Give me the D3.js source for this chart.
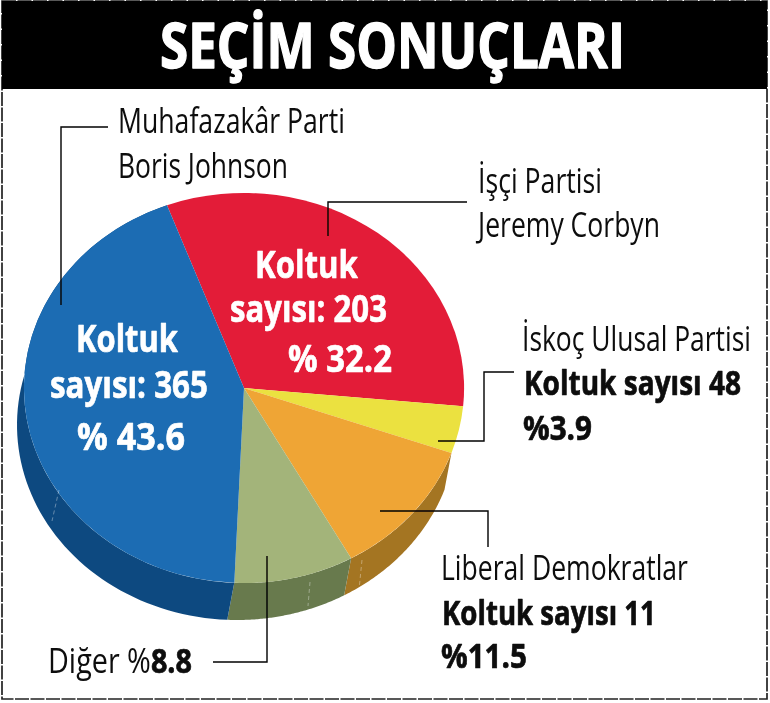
<!DOCTYPE html>
<html><head><meta charset="utf-8">
<script src="https://cdn.jsdelivr.net/npm/d3@7/dist/d3.min.js"></script>
<style>html,body{margin:0;background:#fff}svg{display:block}text{font-family:"Open Sans",sans-serif}</style>
</head><body><svg id="c" width="770" height="703"><defs><filter id="soft" x="0" y="0" width="100%" height="100%"><feGaussianBlur stdDeviation="0.35"/></filter></defs></svg>
<script>
const title = "SEÇİM SONUÇLARI";
const categories = ["İşçi Partisi","İskoç Ulusal Partisi","Liberal Demokratlar","Diğer","Muhafazakâr Parti"];
const shares = [32.2,3.9,11.5,8.8,43.6];
const seats = [203,48,11,null,365];
const topColors = ["#e31b37","#ebe13f","#efa536","#a3b47a","#1b6cb3"];
const sideColors = ["none","none","#a47421","#687a4e","#0f4a80"];

const W=770,H=703,cx=244,cy=388,rx=220,ry=195,dx=-7,dy=37;
const svg=d3.select("#c").append("g").attr("filter","url(#soft)");
svg.append("rect").attr("width",W).attr("height",H).attr("fill","#fff");

const startDeg=-20.5;
const pie=d3.pie().sort(null).startAngle(startDeg*Math.PI/180).endAngle((startDeg+360)*Math.PI/180);
const arcs=pie(shares);
const ex=d3.scaleLinear().domain([-1,1]).range([cx-rx,cx+rx]);
const ey=d3.scaleLinear().domain([-1,1]).range([cy-ry,cy+ry]);
const pt=a=>[ex(Math.sin(a)),ey(-Math.cos(a))];

// side wall of each slice
const line=d3.line();
svg.append("g").selectAll("path").data(arcs).join("path")
  .attr("fill",(d,i)=>sideColors[i])
  .attr("d",d=>{
    const n=80,s=d3.range(n+1).map(k=>pt(d.startAngle+(d.endAngle-d.startAngle)*k/n));
    return line(s.concat(s.slice().reverse().map(p=>[p[0]+dx,p[1]+dy])))+"Z";
  });
// top face
const arc=d3.arc().innerRadius(0).outerRadius(1);
svg.append("g").attr("transform",`translate(${cx},${cy}) scale(${rx},${ry})`)
  .selectAll("path").data(arcs).join("path")
  .attr("fill",(d,i)=>topColors[i]).attr("d",arc);

// faint seams on the side wall
const seams=[[[59,490],[52,521]],[[310,582],[308,606]],[[362,560],[359,590]]];
svg.append("g").selectAll("path").data(seams).join("path")
 .attr("d",line).attr("fill","none").attr("stroke","#fff").attr("stroke-opacity",0.35)
 .attr("stroke-width",1).attr("stroke-dasharray","4 3");

// frame and header
svg.append("rect").attr("x",2).attr("y",1).attr("width",765).attr("height",698)
  .attr("fill","none").attr("stroke","#222").attr("stroke-width",1.7).attr("stroke-dasharray","14 1.5");
svg.append("rect").attr("x",2).attr("y",1).attr("width",765).attr("height",88).attr("fill","#000");

// leader lines
const leaders=[
 [[108,127],[61,127],[61,305]],
 [[467,202],[328,202],[328,236]],
 [[514,372],[484,372],[484,441],[438,441]],
 [[488,547],[488,511],[380,511]],
 [[213,662],[267,662],[267,556]]
];
svg.append("g").selectAll("path").data(leaders).join("path")
 .attr("d",line).attr("fill","none").attr("stroke","#000").attr("stroke-width",1.4);

// text helper: parts = [[string,bold]...], fitted to target width
function put(parts,x,base,width,size,fill,extra){
  const t=svg.append("text").attr("x",0).attr("y",0).attr("font-size",size).attr("fill",fill);
  parts.forEach(p=>{
    const s=t.append("tspan").attr("font-weight",p[1]?700:400).text(p[0]);
    if(p[1]) s.attr("stroke",fill).attr("stroke-width",extra||0.7).attr("stroke-linejoin","round");
  });
  const len=t.node().getComputedTextLength();
  t.attr("transform",`translate(${x},${base}) scale(${width/len},1)`);
}
const fmt=v=>String(v);
const K="#0d0d0d",Wh="#fff";
put([[title,1]],160,68,465,63,Wh,1.4);

put([[categories[4],0]],118,133,227,34,K);
put([["Boris Johnson",0]],118,178,170,34,K);
put([[categories[0],0]],478,193,124,34,K);
put([["Jeremy Corbyn",0]],478,237,182,34,K);
put([[categories[1],0]],522,351,229,34,K);
put([["Koltuk sayısı "+seats[1],1]],524,395,217,34,K);
put([["%"+shares[1],1]],523,440,69,34,K);
put([[categories[2],0]],441,580,247,34,K);
put([["Koltuk sayısı "+seats[2],1]],442,625,214,34,K);
put([["%"+shares[2],1]],441,668,86,34,K);
put([[categories[3]+" %",0],[fmt(shares[3]),1]],48,673,144,34,K);

put([["Koltuk",1]],255,278,103,38,Wh);
put([["sayısı: "+seats[0],1]],230,322,157,38,Wh);
put([["% "+shares[0],1]],288,372,104,38,Wh);
put([["Koltuk",1]],76,352,102,38,Wh);
put([["sayısı: "+seats[4],1]],50,398,158,38,Wh);
put([["% "+shares[4],1]],77,450,108,38,Wh);
</script></body></html>
